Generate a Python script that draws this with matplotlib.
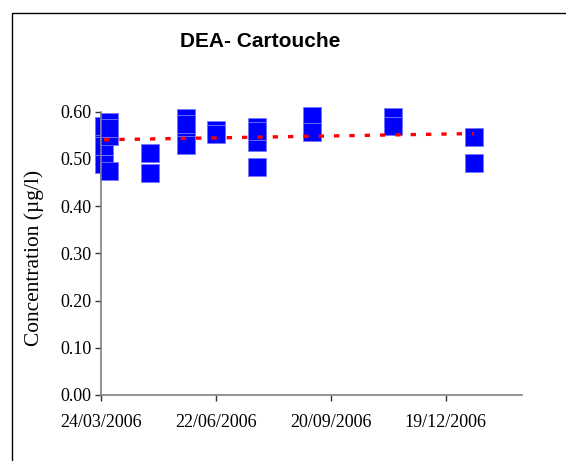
import numpy as np
import matplotlib.pyplot as plt
import matplotlib.dates as mdates
from matplotlib.patches import Rectangle
from datetime import datetime

# sample dates and concentrations (µg/l)
dates = ["26/03/2006", "26/03/2006", "26/03/2006", "26/03/2006",
         "30/03/2006", "30/03/2006", "30/03/2006", "30/03/2006",
         "01/05/2006", "01/05/2006",
         "29/05/2006", "29/05/2006", "29/05/2006", "29/05/2006",
         "22/06/2006", "22/06/2006",
         "24/07/2006", "24/07/2006", "24/07/2006", "24/07/2006",
         "05/09/2006", "05/09/2006",
         "08/11/2006", "08/11/2006",
         "10/01/2007", "10/01/2007"]
values = [0.566, 0.528, 0.490, 0.570,
          0.578, 0.549, 0.475, 0.565,
          0.513, 0.470,
          0.587, 0.566, 0.530, 0.575,
          0.561, 0.553,
          0.567, 0.535, 0.483, 0.560,
          0.590, 0.556,
          0.588, 0.570,
          0.546, 0.492]
tick_dates = ["24/03/2006", "22/06/2006", "20/09/2006", "19/12/2006"]
x_min, x_max = "24/03/2006", "17/02/2007"

plt.rcParams['font.family'] = ['Liberation Serif', 'DejaVu Serif']

to_dt = lambda s: datetime.strptime(s, "%d/%m/%Y")
x = mdates.date2num([to_dt(d) for d in dates])
y = np.array(values)

fig = plt.figure(figsize=(5.66, 4.61), dpi=100)
ax = fig.add_axes([0.1793, 0.1432, 0.7430, 0.6145])

ax.plot(x, y, linestyle='none', marker='s', markersize=12.7, clip_on=False,
        markerfacecolor='#0000ff', markeredgecolor='#7777ff', markeredgewidth=0.6)

# linear trend line
k, b = np.polyfit(x, y, 1)
xt = np.array([x.min(), x.max()])
ax.plot(xt, k * xt + b, color='#ff0000', lw=2.4, linestyle=(0, (1.6, 3)))

ax.set_ylim(0, 0.6)
ax.set_yticks(np.arange(0, 0.61, 0.1))
ax.yaxis.set_major_formatter(plt.FuncFormatter(lambda v, p: f"{v:.2f}"))
ax.set_xlim(mdates.date2num(to_dt(x_min)), mdates.date2num(to_dt(x_max)))
ax.set_xticks(mdates.date2num([to_dt(d) for d in tick_dates]))
ax.set_xticklabels(tick_dates)

for s in ['top', 'right']:
    ax.spines[s].set_visible(False)
for s in ['left', 'bottom']:
    ax.spines[s].set_color('#808080')
    ax.spines[s].set_linewidth(1.2)
ax.tick_params(axis='both', direction='out', length=4, width=1, color='#333333',
               labelsize=13, pad=3)
ax.tick_params(axis='x', pad=10)

ax.set_ylabel("Concentration (µg/l)", fontsize=15.4)
ax.yaxis.set_label_coords(-0.137, 0.485)
fig.text(0.46, 0.91, "DEA- Cartouche", ha='center', va='center',
         fontsize=15, fontweight='bold', family=['Liberation Sans', 'DejaVu Sans'])

# outer chart frame (cut at right and bottom)
fig.patches.append(Rectangle((0.0212, -0.1), 1.2, 0.9718 + 0.1, transform=fig.transFigure,
                             fill=False, edgecolor='black', lw=1.0))

fig.savefig("out.png", dpi=100)
